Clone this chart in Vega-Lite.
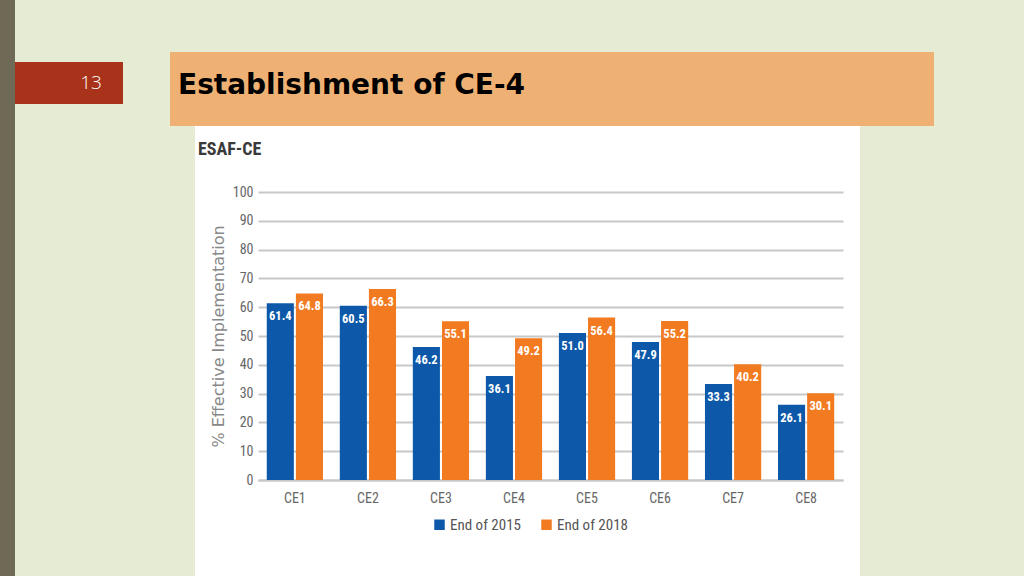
{
  "$schema": "https://vega.github.io/schema/vega-lite/v6.json",
  "background": "#e6ecd3",
  "padding": 0,
  "autosize": {"type": "pad"},
  "config": {"view": {"stroke": null}},
  "spacing": 0,
  "hconcat": [
    {
      "width": 15,
      "height": 576,
      "view": {"fill": "#6f6a55", "stroke": null},
      "data": {"values": []},
      "mark": "point"
    },
    {
      "spacing": 0,
      "vconcat": [
        {
          "width": 1,
          "height": 52,
          "data": {"values": []},
          "mark": "point"
        },
        {
          "spacing": 0,
          "hconcat": [
            {
              "spacing": 0,
              "vconcat": [
                {"width": 1, "height": 10, "data": {"values": []}, "mark": "point"},
                {
                  "width": 108,
                  "height": 42,
                  "view": {"fill": "#a8321a", "stroke": null},
                  "data": {"values": [{"n": "13"}]},
                  "mark": {"type": "text", "color": "white", "fontSize": 19, "font": "Open Sans", "fontWeight": 300, "dx": 22, "baseline": "middle"},
                  "encoding": {"text": {"field": "n", "type": "nominal"}}
                }
              ]
            },
            {"width": 47, "height": 10, "data": {"values": []}, "mark": "point"},
            {
              "width": 764,
              "height": 74,
              "view": {"fill": "#efb173", "stroke": null},
              "title": {"text": "Establishment of CE-4", "anchor": "start", "orient": "top", "offset": 0, "dx": 8, "dy": 70, "baseline": "alphabetic", "font": "DejaVu Sans", "fontSize": 28, "fontWeight": "bold", "color": "#000000"},
              "data": {"values": []},
              "mark": "point"
            },
            {"width": 90, "height": 10, "data": {"values": []}, "mark": "point"}
          ]
        },
        {
          "spacing": 0,
          "hconcat": [
            {"width": 180, "height": 10, "data": {"values": []}, "mark": "point"},
            {
              "width": 665,
              "height": 450,
              "view": {"fill": "#ffffff", "stroke": null},
              "title": {"text": "ESAF-CE", "anchor": "start", "orient": "top", "offset": 0, "dx": 3, "dy": 47, "baseline": "alphabetic", "font": "Roboto Condensed, DejaVu Sans Condensed, Liberation Sans Narrow, Roboto", "fontSize": 18, "fontWeight": "bold", "color": "#3a3a3a"},
              "data": {
                "values": [
                  {"ce": "CE1", "period": "End of 2015", "value": 61.4},
                  {"ce": "CE1", "period": "End of 2018", "value": 64.8},
                  {"ce": "CE2", "period": "End of 2015", "value": 60.5},
                  {"ce": "CE2", "period": "End of 2018", "value": 66.3},
                  {"ce": "CE3", "period": "End of 2015", "value": 46.2},
                  {"ce": "CE3", "period": "End of 2018", "value": 55.1},
                  {"ce": "CE4", "period": "End of 2015", "value": 36.1},
                  {"ce": "CE4", "period": "End of 2018", "value": 49.2},
                  {"ce": "CE5", "period": "End of 2015", "value": 51.0},
                  {"ce": "CE5", "period": "End of 2018", "value": 56.4},
                  {"ce": "CE6", "period": "End of 2015", "value": 47.9},
                  {"ce": "CE6", "period": "End of 2018", "value": 55.2},
                  {"ce": "CE7", "period": "End of 2015", "value": 33.3},
                  {"ce": "CE7", "period": "End of 2018", "value": 40.2},
                  {"ce": "CE8", "period": "End of 2015", "value": 26.1},
                  {"ce": "CE8", "period": "End of 2018", "value": 30.1}
                ]
              },
              "encoding": {
                "x": {
                  "field": "ce",
                  "type": "nominal",
                  "scale": {"range": [63, 648], "paddingInner": 0.23, "paddingOuter": 0.12},
                  "axis": {"title": null, "orient": "bottom", "offset": -96, "labelAngle": 0, "ticks": false, "domainColor": "#c8c8c8", "domainWidth": 2, "labelPadding": 11, "labelFont": "Roboto Condensed, DejaVu Sans Condensed, Liberation Sans Narrow, Roboto", "labelFontSize": 14, "labelColor": "#666666"}
                },
                "xOffset": {"field": "period", "type": "nominal", "scale": {"paddingInner": 0.07}},
                "y": {
                  "field": "value",
                  "type": "quantitative",
                  "scale": {"domain": [0, 100], "range": [354, 66], "nice": false},
                  "axis": {"title": "% Effective Implementation", "offset": -63, "domain": false, "ticks": false, "values": [0, 10, 20, 30, 40, 50, 60, 70, 80, 90, 100], "gridColor": "#c8c8c8", "gridWidth": 2, "labelPadding": 5, "labelFont": "Roboto Condensed, DejaVu Sans Condensed, Liberation Sans Narrow, Roboto", "labelFontSize": 14, "labelColor": "#666666", "titleFont": "DejaVu Sans", "titleFontSize": 16, "titleFontWeight": "normal", "titleColor": "#888888", "titlePadding": 6}
                }
              },
              "layer": [
                {
                  "mark": {"type": "bar"},
                  "encoding": {
                    "color": {
                      "field": "period",
                      "type": "nominal",
                      "scale": {"range": ["#0d58a8", "#f27a21"]},
                      "legend": {"title": null, "orient": "none", "legendX": 432, "legendY": 517, "direction": "horizontal", "symbolType": "square", "symbolSize": 110, "symbolStrokeWidth": 0, "symbolOpacity": 1, "labelFont": "Roboto Condensed, DejaVu Sans Condensed, Liberation Sans Narrow, Roboto", "labelFontSize": 15, "labelColor": "#555555", "columnPadding": 18, "labelOffset": 3}
                    }
                  }
                },
                {
                  "mark": {"type": "text", "color": "#ffffff", "baseline": "middle", "dy": 13, "font": "Roboto Condensed, DejaVu Sans Condensed, Liberation Sans Narrow, Roboto", "fontWeight": "bold", "fontSize": 12.5},
                  "encoding": {"text": {"field": "value", "type": "quantitative", "format": ".1f"}}
                }
              ]
            }
          ]
        }
      ]
    }
  ]
}
